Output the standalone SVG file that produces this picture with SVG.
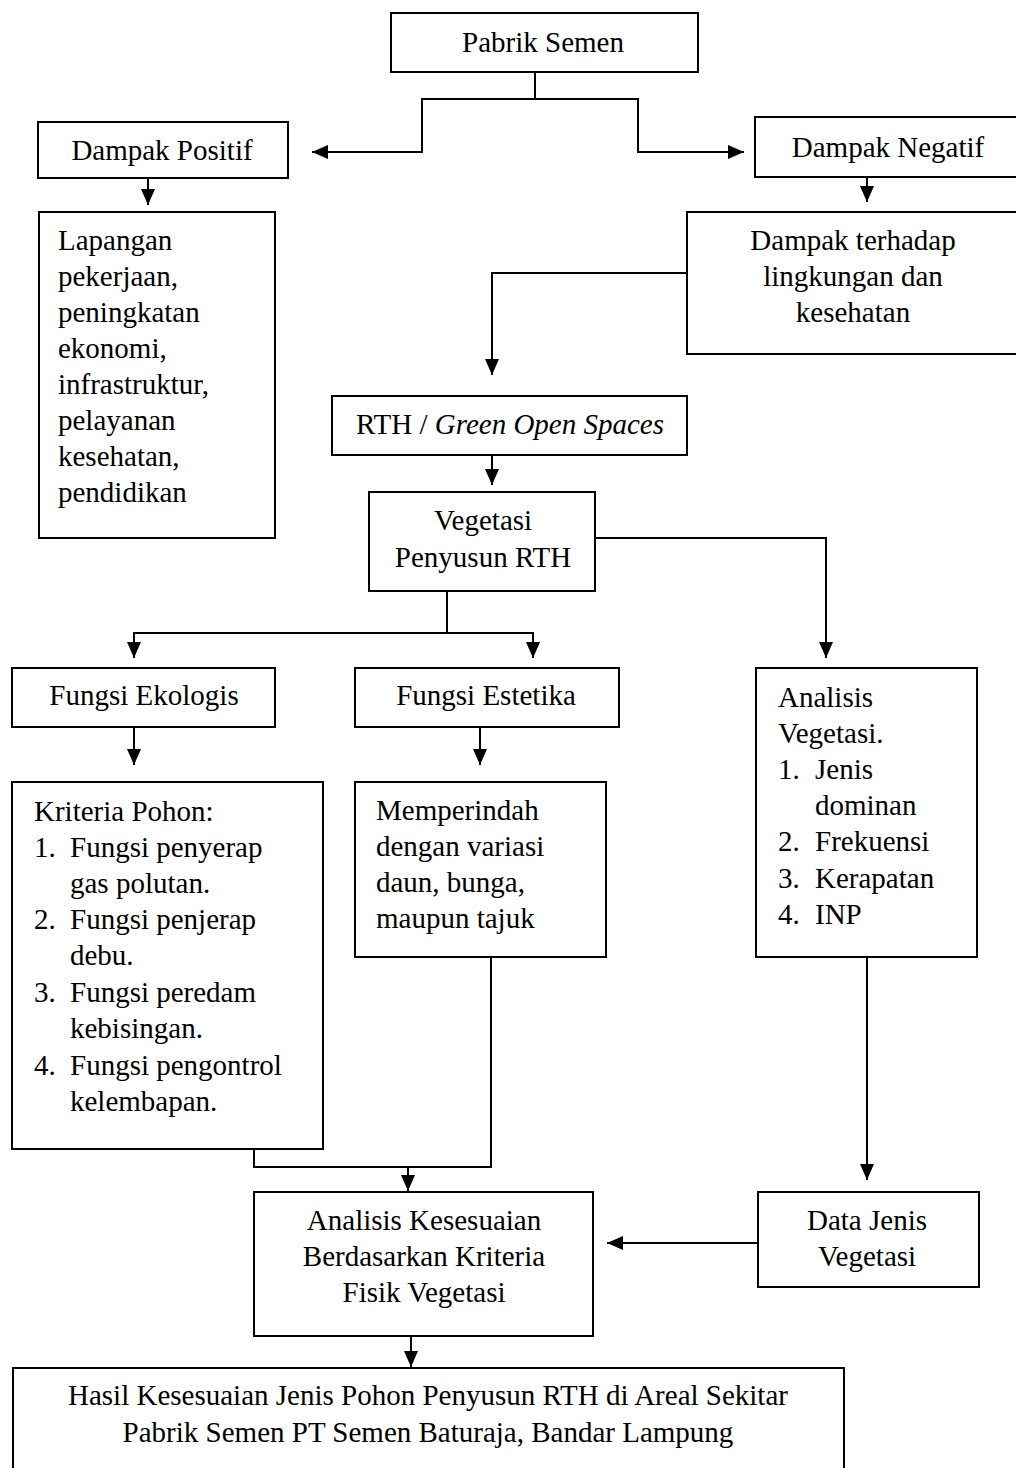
<svg xmlns="http://www.w3.org/2000/svg" width="1016" height="1468" viewBox="0 0 1016 1468">
<style>
.box{fill:#fff;stroke:#000;stroke-width:2}
.c{fill:none;stroke:#000;stroke-width:2}
text{font-family:"Liberation Serif","Times New Roman",serif;font-size:29px;fill:#000}
.m{text-anchor:middle}
</style>
<defs>
<marker id="ah" markerUnits="userSpaceOnUse" markerWidth="16" markerHeight="14" viewBox="0 0 16 14" refX="16" refY="7" orient="auto">
<path d="M0,0 L16,7 L0,14 Z" fill="#000"/>
</marker>
</defs>
<rect width="1016" height="1468" fill="#fff"/>
<g id="connectors">
<path class="c" d="M535,72 V99 H422 V152 H312" marker-end="url(#ah)"/>
<path class="c" d="M535,99 H638 V152 H744" marker-end="url(#ah)"/>
<path class="c" d="M148,178 V205" marker-end="url(#ah)"/>
<path class="c" d="M867,177 V202" marker-end="url(#ah)"/>
<path class="c" d="M687,273 H492 V375" marker-end="url(#ah)"/>
<path class="c" d="M492,455 V485" marker-end="url(#ah)"/>
<path class="c" d="M595,538 H826 V658" marker-end="url(#ah)"/>
<path class="c" d="M447,591 V633"/>
<path class="c" d="M447,633 H134 V658" marker-end="url(#ah)"/>
<path class="c" d="M447,633 H533 V658" marker-end="url(#ah)"/>
<path class="c" d="M134,727 V765" marker-end="url(#ah)"/>
<path class="c" d="M480,727 V765" marker-end="url(#ah)"/>
<path class="c" d="M254,1149 V1167 H491 V957"/>
<path class="c" d="M408,1167 V1191" marker-end="url(#ah)"/>
<path class="c" d="M867,957 V1180" marker-end="url(#ah)"/>
<path class="c" d="M758,1243 H607" marker-end="url(#ah)"/>
<path class="c" d="M411,1336 V1367" marker-end="url(#ah)"/>
</g>
<g id="pabrik">
<rect class="box" x="391" y="13" width="307" height="59"/>
<text class="m" x="543" y="52">Pabrik Semen</text>
</g>
<g id="positif">
<rect class="box" x="38" y="122" width="250" height="56"/>
<text class="m" x="162" y="160">Dampak Positif</text>
</g>
<g id="negatif">
<rect class="box" x="755" y="117" width="270" height="60"/>
<text class="m" x="888" y="157">Dampak Negatif</text>
</g>
<g id="lapangan">
<rect class="box" x="39" y="212" width="236" height="326"/>
<text x="58" y="250">Lapangan</text>
<text x="58" y="286">pekerjaan,</text>
<text x="58" y="322">peningkatan</text>
<text x="58" y="358">ekonomi,</text>
<text x="58" y="394">infrastruktur,</text>
<text x="58" y="430">pelayanan</text>
<text x="58" y="466">kesehatan,</text>
<text x="58" y="502">pendidikan</text>
</g>
<g id="dampak-lingkungan">
<rect class="box" x="687" y="212" width="340" height="142"/>
<text class="m" x="853" y="250">Dampak terhadap</text>
<text class="m" x="853" y="286">lingkungan dan</text>
<text class="m" x="853" y="322">kesehatan</text>
</g>
<g id="rth">
<rect class="box" x="332" y="396" width="355" height="59"/>
<text class="m" x="510" y="434">RTH / <tspan font-style="italic">Green Open Spaces</tspan></text>
</g>
<g id="vegetasi">
<rect class="box" x="369" y="492" width="226" height="99"/>
<text class="m" x="483" y="530">Vegetasi</text>
<text class="m" x="483" y="567">Penyusun RTH</text>
</g>
<g id="ekologis">
<rect class="box" x="12" y="668" width="263" height="59"/>
<text class="m" x="144" y="705">Fungsi Ekologis</text>
</g>
<g id="estetika">
<rect class="box" x="355" y="668" width="264" height="59"/>
<text class="m" x="486" y="705">Fungsi Estetika</text>
</g>
<g id="analisis-vegetasi">
<rect class="box" x="756" y="668" width="221" height="289"/>
<text x="778" y="707">Analisis</text>
<text x="778" y="743">Vegetasi.</text>
<text x="778" y="779">1.</text><text x="815" y="779">Jenis</text>
<text x="815" y="815">dominan</text>
<text x="778" y="851">2.</text><text x="815" y="851">Frekuensi</text>
<text x="778" y="888">3.</text><text x="815" y="888">Kerapatan</text>
<text x="778" y="924">4.</text><text x="815" y="924">INP</text>
</g>
<g id="kriteria">
<rect class="box" x="12" y="782" width="311" height="367"/>
<text x="34" y="821">Kriteria Pohon:</text>
<text x="34" y="857">1.</text><text x="70" y="857">Fungsi penyerap</text>
<text x="70" y="893">gas polutan.</text>
<text x="34" y="929">2.</text><text x="70" y="929">Fungsi penjerap</text>
<text x="70" y="965">debu.</text>
<text x="34" y="1002">3.</text><text x="70" y="1002">Fungsi peredam</text>
<text x="70" y="1038">kebisingan.</text>
<text x="34" y="1075">4.</text><text x="70" y="1075">Fungsi pengontrol</text>
<text x="70" y="1111">kelembapan.</text>
</g>
<g id="memperindah">
<rect class="box" x="355" y="782" width="251" height="175"/>
<text x="376" y="820">Memperindah</text>
<text x="376" y="856">dengan variasi</text>
<text x="376" y="892">daun, bunga,</text>
<text x="376" y="928">maupun tajuk</text>
</g>
<g id="analisis-kesesuaian">
<rect class="box" x="254" y="1192" width="339" height="144"/>
<text class="m" x="424" y="1230">Analisis Kesesuaian</text>
<text class="m" x="424" y="1266">Berdasarkan Kriteria</text>
<text class="m" x="424" y="1302">Fisik Vegetasi</text>
</g>
<g id="data-jenis">
<rect class="box" x="758" y="1192" width="221" height="95"/>
<text class="m" x="867" y="1230">Data Jenis</text>
<text class="m" x="867" y="1266">Vegetasi</text>
</g>
<g id="hasil">
<rect class="box" x="13" y="1368" width="831" height="120"/>
<text class="m" x="428" y="1405">Hasil Kesesuaian Jenis Pohon Penyusun RTH di Areal Sekitar</text>
<text class="m" x="428" y="1442">Pabrik Semen PT Semen Baturaja, Bandar Lampung</text>
</g>
</svg>
